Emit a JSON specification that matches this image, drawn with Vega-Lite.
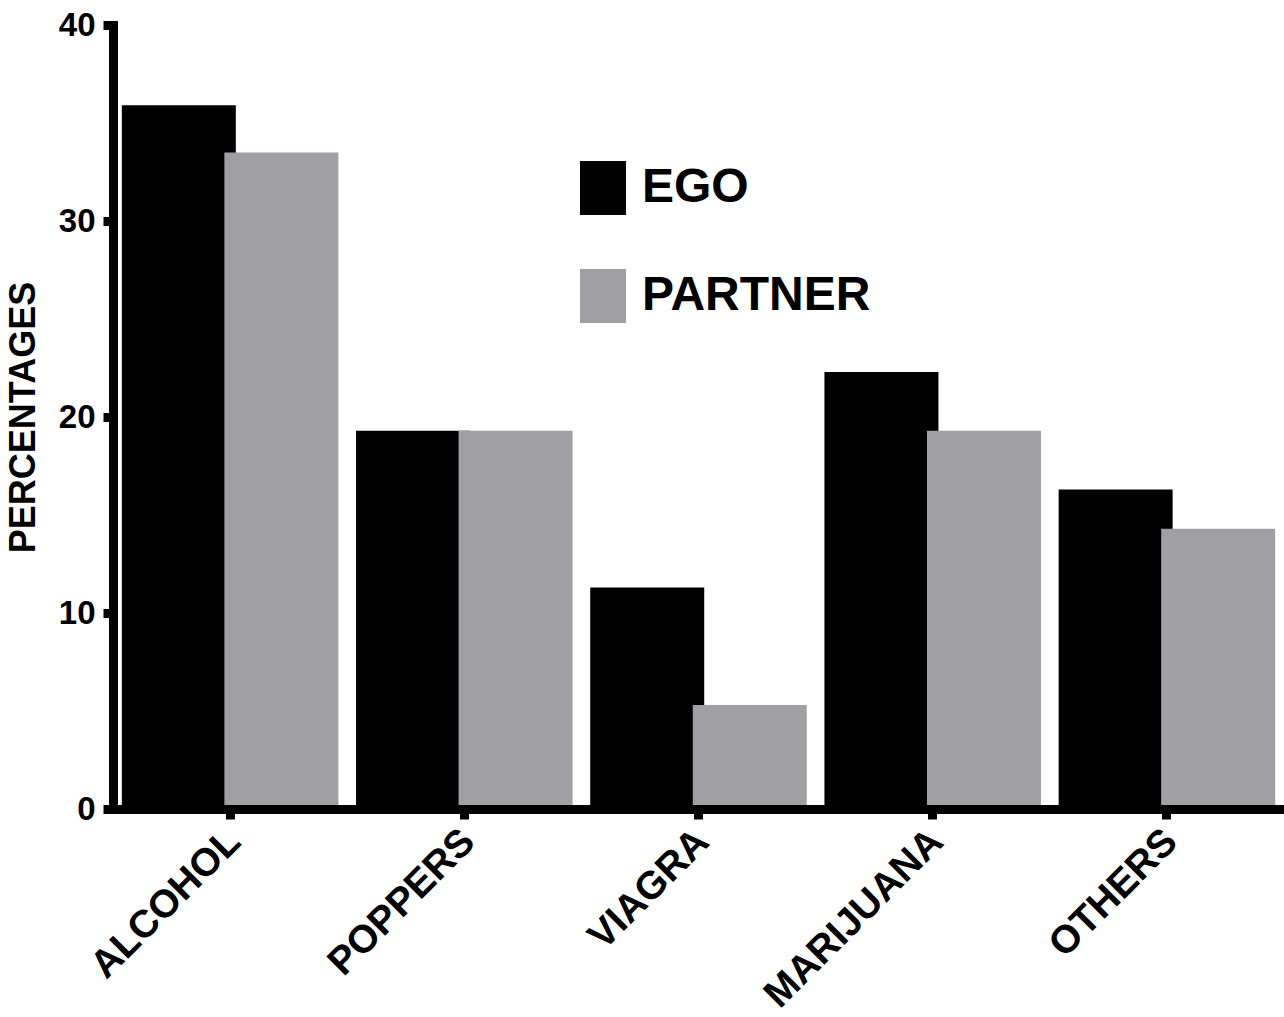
{
  "$schema": "https://vega.github.io/schema/vega-lite/v6.json",
  "autosize": {"type": "none"},
  "padding": {"left": 113, "top": 25, "right": 0, "bottom": 208},
  "width": 1171,
  "height": 784,
  "background": "white",
  "data": {
    "values": [
      {"drug": "ALCOHOL", "group": "EGO", "pct": 35.9},
      {"drug": "ALCOHOL", "group": "PARTNER", "pct": 33.5},
      {"drug": "POPPERS", "group": "EGO", "pct": 19.3},
      {"drug": "POPPERS", "group": "PARTNER", "pct": 19.3},
      {"drug": "VIAGRA", "group": "EGO", "pct": 11.3},
      {"drug": "VIAGRA", "group": "PARTNER", "pct": 5.3},
      {"drug": "MARIJUANA", "group": "EGO", "pct": 22.3},
      {"drug": "MARIJUANA", "group": "PARTNER", "pct": 19.3},
      {"drug": "OTHERS", "group": "EGO", "pct": 16.3},
      {"drug": "OTHERS", "group": "PARTNER", "pct": 14.3}
    ]
  },
  "mark": {"type": "bar", "width": 114},
  "encoding": {
    "x": {
      "field": "drug",
      "type": "nominal",
      "sort": ["ALCOHOL", "POPPERS", "VIAGRA", "MARIJUANA", "OTHERS"],
      "scale": {"paddingInner": 0, "paddingOuter": 0},
      "axis": {
        "title": null,
        "labelAngle": -45,
        "labelAlign": "right",
        "labelBaseline": "middle",
        "labelFont": "Liberation Sans",
        "labelFontWeight": "bold",
        "labelFontSize": 39,
        "labelColor": "black",
        "labelLimit": 0,
        "labelPadding": 16,
        "labelOffset": 4,
        "domainColor": "black",
        "domainWidth": 9,
        "domainCap": "square",
        "tickColor": "black",
        "tickWidth": 9,
        "tickSize": 10,
        "zindex": 1
      }
    },
    "xOffset": {
      "field": "group",
      "type": "nominal",
      "sort": ["EGO", "PARTNER"],
      "scale": {"paddingInner": 0, "paddingOuter": 0.142}
    },
    "y": {
      "field": "pct",
      "type": "quantitative",
      "scale": {"domain": [0, 40], "nice": false},
      "axis": {
        "title": "PERCENTAGES",
        "titleFont": "Liberation Sans",
        "titleFontWeight": "bold",
        "titleFontSize": 36,
        "titleColor": "black",
        "titlePadding": 16,
        "values": [0, 10, 20, 30, 40],
        "grid": false,
        "labelFont": "Liberation Sans",
        "labelFontWeight": "bold",
        "labelFontSize": 33,
        "labelColor": "black",
        "labelPadding": 8,
        "domainColor": "black",
        "domainWidth": 9,
        "domainCap": "square",
        "tickColor": "black",
        "tickWidth": 9,
        "tickSize": 10,
        "zindex": 1
      }
    },
    "color": {
      "field": "group",
      "type": "nominal",
      "sort": ["EGO", "PARTNER"],
      "scale": {"domain": ["EGO", "PARTNER"], "range": ["#000000", "#a09fa4"]},
      "legend": {
        "title": null,
        "orient": "none",
        "legendX": 463,
        "legendY": 136,
        "padding": 0,
        "symbolType": "M-0.852,-1H0.852V1H-0.852Z",
        "symbolSize": 2916,
        "symbolStrokeWidth": 0,
        "labelFont": "Liberation Sans",
        "labelFontWeight": "bold",
        "labelFontSize": 48,
        "labelColor": "black",
        "labelLimit": 0,
        "labelOffset": 12,
        "rowPadding": 54
      }
    }
  },
  "config": {"view": {"stroke": null}}
}
